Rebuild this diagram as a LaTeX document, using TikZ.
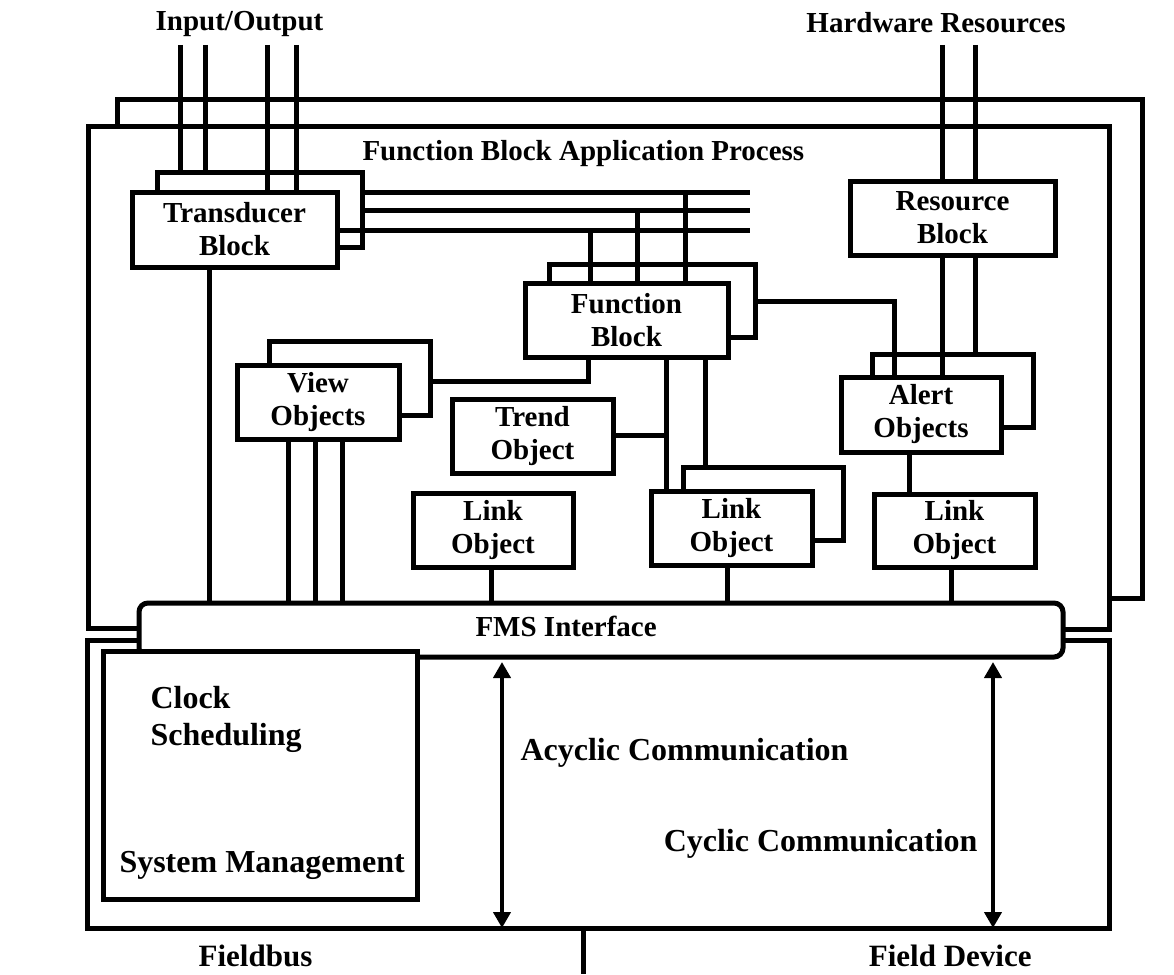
\documentclass[tikz,border=0pt]{standalone}
\usepackage{fontspec}
\setmainfont{Liberation Serif}
\usetikzlibrary{arrows.meta}
\begin{document}
\begin{tikzpicture}[x=1pt,y=-1pt, line width=5pt, line cap=butt, line join=miter,
  box/.style={draw, fill=white, rectangle, inner sep=0pt, line width=5pt, align=center,
    font=\fontsize{29}{33}\selectfont\bfseries},
  backbox/.style={draw, fill=white, rectangle, inner sep=0pt, line width=5pt},
  lbl/.style={inner sep=0pt, font=\fontsize{29}{33}\selectfont\bfseries},
  biglbl/.style={inner sep=0pt, font=\fontsize{32}{36}\selectfont\bfseries},
  dbl/.style={{Triangle[length=16pt,width=17pt]}-{Triangle[length=16pt,width=17pt]}, line width=4.6pt, shorten <=2.5pt, shorten >=2.5pt}]
\useasboundingbox (0,0) rectangle (1174,974);

% ---------- frames ----------
\coordinate (fiL) at (88,628);
\coordinate (fiTL) at (88,126);
\coordinate (fiTR) at (1109,126);
\coordinate (fiR) at (1109,629);
\coordinate (foL) at (117,126);
\coordinate (foTL) at (117,99);
\coordinate (foTR) at (1142,99);
\coordinate (foR) at (1142,598);

% ---------- free ends ----------
\coordinate (io1) at (180,45);
\coordinate (io2) at (205,45);
\coordinate (io3) at (267,45);
\coordinate (io4) at (296,45);
\coordinate (hw1) at (942,45);
\coordinate (hw2) at (975,45);
\coordinate (b1) at (750,192);
\coordinate (b2) at (750,210);
\coordinate (b3) at (750,230);
\coordinate (bl) at (583,974);

% ---------- bottom boxes ----------
\node[backbox, minimum width=1022pt, minimum height=288pt] (fd) at (598,784) {};
\draw (fiL -| 139,0) -- (fiL) -- (fiTL) -- (fiTR) -- (fiR) -- (fiR -| 1063,0);
\draw (foL) -- (foTL) -- (foTR) -- (foR) -- (foR -| fiTR);
\node[draw, fill=white, rounded corners=9pt, inner sep=0pt, minimum width=924pt, minimum height=54pt] (fms) at (601,630) {};
\node[backbox, minimum width=314pt, minimum height=248pt] (sm) at (260,775) {};

% ---------- back boxes ----------
\node[backbox, minimum width=205pt, minimum height=75pt] (tbb) at (259.5,209.5) {};
\node[backbox, minimum width=206pt, minimum height=73pt] (fbb) at (652,300.5) {};
\node[backbox, minimum width=161pt, minimum height=74pt] (vob) at (349.5,378) {};
\node[backbox, minimum width=160pt, minimum height=73pt] (lmb) at (763,503.5) {};
\node[backbox, minimum width=161pt, minimum height=73pt] (aob) at (952.5,390.5) {};

% ---------- wires ----------
\draw (io1) -- (io1 |- tbb.north);
\draw (io2) -- (io2 |- tbb.north);
\draw (io3) -- (io3 |- 0,192);
\draw (io4) -- (io4 |- 0,192);
\draw (hw1) -- (hw1 |- 0,181);
\draw (hw2) -- (hw2 |- 0,181);
\draw (b1 -| tbb.east) -- (b1);
\draw (b2 -| tbb.east) -- (b2);
\draw (b3 -| 337,0) -- (b3);
\coordinate (f1) at (590,230);
\coordinate (f2) at (637,210);
\coordinate (f3) at (685,192);
\draw (f1) -- (f1 |- 0,283);
\draw (f2) -- (f2 |- 0,283);
\draw (f3) -- (f3 |- 0,283);
% transducer to FMS
\coordinate (t1) at (209,267);
\draw (t1) -- (t1 |- fms.north);
% FB to Alert
\coordinate (fa) at (894,301);
\draw (fa -| fbb.east) -- (fa) -- (fa |- 0,377);
% FB to View
\coordinate (fv) at (588,381);
\draw (fv |- 0,357) -- (fv) -- (fv -| vob.east);
% FB to Link mid
\coordinate (fl1) at (666,357);
\coordinate (fl2) at (705,357);
\draw (fl1) -- (fl1 |- 0,491);
\draw (fl2) -- (fl2 |- lmb.north);
% Trend to FB line
\coordinate (tr) at (613,435);
\draw (tr) -- (tr -| fl1);
% Resource to Alert
\coordinate (r1) at (942,255);
\coordinate (r2) at (975,255);
\draw (r1) -- (r1 |- 0,377);
\draw (r2) -- (r2 |- aob.north);
% Alert to Link right
\coordinate (al) at (909,452);
\draw (al) -- (al |- 0,494);
% View to FMS
\coordinate (v1) at (288,439);
\coordinate (v2) at (315,439);
\coordinate (v3) at (342,439);
\draw (v1) -- (v1 |- fms.north);
\draw (v2) -- (v2 |- fms.north);
\draw (v3) -- (v3 |- fms.north);
% Links to FMS
\coordinate (l1) at (491,567);
\coordinate (l2) at (727,565);
\coordinate (l3) at (951,567);
\draw (l1) -- (l1 |- fms.north);
\draw (l2) -- (l2 |- fms.north);
\draw (l3) -- (l3 |- fms.north);
% bottom line
\draw (bl |- fd.south) -- (bl);

% ---------- front boxes ----------
\node[box, minimum width=205pt, minimum height=75pt] (tbf) at (234.5,229.5) {Transducer\\Block};
\node[box, minimum width=205pt, minimum height=74pt] (rb) at (952.5,218) {Resource\\Block};
\node[box, minimum width=203pt, minimum height=74pt] (fbf) at (626.5,320) {Function\\Block};
\node[box, minimum width=162pt, minimum height=74pt] (vof) at (318,402) {View\\Objects};
\node[box, minimum width=161pt, minimum height=74pt] (tro) at (532.5,436) {Trend\\Object};
\node[box, minimum width=160pt, minimum height=74pt] (lol) at (493,530) {Link\\Object};
\node[box, minimum width=161pt, minimum height=74pt] (lmf) at (731.5,528) {Link\\Object};
\node[box, minimum width=160pt, minimum height=75pt] (aof) at (921,414.5) {Alert\\Objects};
\node[box, minimum width=161pt, minimum height=73pt] (lor) at (954.5,530.5) {Link\\Object};

% ---------- arrows ----------
\coordinate (a1) at (502,0);
\coordinate (a2) at (993,0);
\draw[dbl] (a1 |- fms.south) -- (a1 |- fd.south);
\draw[dbl] (a2 |- fms.south) -- (a2 |- fd.south);

% ---------- labels ----------
\node[lbl, anchor=base] (lio) at (239.5,31) {Input/Output};
\node[lbl, anchor=base] (lhw) at (936,33) {Hardware Resources};
\node[lbl, anchor=base west] (lfb) at (360,160) {Function Block Application Process};
\node[lbl, anchor=base west] (lfms) at (473,636) {FMS Interface};
\node[biglbl, anchor=base west] (lck) at (148,708) {Clock};
\node[biglbl, anchor=base west] (lsc) at (148,745) {Scheduling};
\node[biglbl, anchor=base west] (lsm) at (117,872) {System Management};
\node[biglbl, anchor=base west] (lac) at (518,760) {Acyclic Communication};
\node[biglbl, anchor=base east] (lcy) at (980,851) {Cyclic Communication};
\node[biglbl, anchor=base, font=\fontsize{31}{35}\selectfont\bfseries] (lfbus) at (255.5,966) {Fieldbus};
\node[biglbl, anchor=base east, font=\fontsize{31}{35}\selectfont\bfseries] (lfd) at (1034,966) {Field Device};
\end{tikzpicture}
\end{document}
